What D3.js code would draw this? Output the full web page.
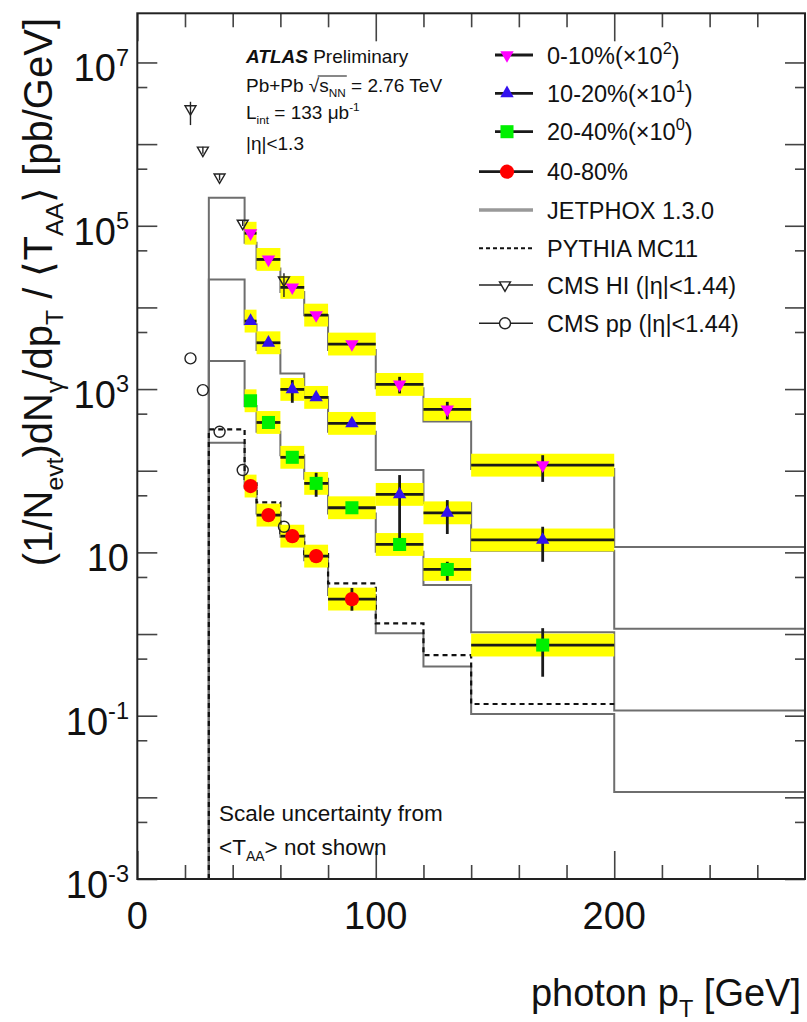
<!DOCTYPE html>
<html><head><meta charset="utf-8">
<script src="https://cdn.jsdelivr.net/npm/d3@7"></script>
<style>
body{margin:0;background:#fff}
svg{display:block}
text{font-family:"Liberation Sans",Arial,Helvetica,sans-serif;fill:#111}
</style>
</head><body>
<svg id="chart" width="807" height="1022"></svg>
<script>
// ---------- data ----------
const binLo     = [45, 50, 60, 70, 80, 100, 120, 140];
const binHi     = [50, 60, 70, 80, 100, 120, 140, 200];
const binCenter = [47.5, 55, 65, 75, 90, 110, 130, 170];

const c0010   = [8.1e4, 3.87e4, 1.76e4, 8.05e3, 3.56e3, 1140, 564, 117];
const c0010Lo = [7.6e4, 3.7e4, 1.68e4, 7.6e3, 3.4e3, 885, 425, 73];
const c0010Hi = [8.6e4, 4.05e4, 1.85e4, 8.5e3, 3.72e3, 1413, 698, 155];

const c1020   = [6.8e3, 3.69e3, 991, 791, 380, 51.3, 30.5, 14.2];
const c1020Lo = [6.4e3, 3.5e3, 679, 740, 360, 13.0, 16.8, 7.67];
const c1020Hi = [7.2e3, 3.9e3, 1288, 845, 400, 88.5, 43.7, 20.6];

const c2040   = [719, 390, 146, 70, 35.2, 12.5, 6.18, 0.733];
const c2040Lo = [690, 375, 138, 48.0, 33.5, 11.3, 4.50, 0.30];
const c2040Hi = [750, 405, 154, 94.4, 37, 13.8, 7.67, 1.18];

const c4080   = [64.9, 28.6, 15.8, 9.0, 2.68];
const c4080Lo = [61, 26.5, 13.5, 8.4, 1.93];
const c4080Hi = [69, 31, 18, 9.7, 3.66];

const sysFactor = 1.38;

const jetEdges = [30, 45, 50, 60, 70, 80, 100, 120, 140, 200, 280];
const jetphox  = [220, 62, 30, 15.5, 8.0, 3.0, 1.02, 0.40, 0.105, 0.0116];
const jetScale = [1000, 100, 10, 1];

const pyEdges = [30, 45, 50, 60, 70, 80, 100, 120, 140, 200];
const pythia  = [321, 70, 41, 16, 9.5, 4.18, 1.35, 0.553, 0.139];

const cmsPt   = [22.3, 27.5, 34.5, 44.2, 61.5];
const cmsHI   = [2.7e6, 8.4e5, 3.94e5, 1.07e5, 2.16e4];
const cmsHILo = [1.71e6, 7.6e5, 3.6e5, 9.9e4, 1.34e4];
const cmsHIHi = [3.3e6, 9.3e5, 4.3e5, 1.15e5, 2.63e4];
const cmsPP   = [2376, 972, 300, 102, 20.6];

const xMajor = [0, 100, 200];
const xMinor = [20, 40, 60, 80, 120, 140, 160, 180, 220, 240, 260];
const yLabelExp = [7, 5, 3, 1, -1, -3];
const yMajorExp = [-3, -2, -1, 0, 1, 2, 3, 4, 5, 6, 7];

// ---------- setup ----------
const svg = d3.select("#chart");
const L = 137.3, R = 805, T = 13.3, B = 879;
const x = d3.scaleLinear().domain([0, 280]).range([L, R]);
const y = d3.scaleLog().domain([1e-3, 4e7]).range([B, T]);

function rich(sel, segs, size, supScale) {
  const sc = supScale || 0.62;
  let shift = 0;
  segs.forEach(s => {
    const ts = sel.append("tspan").text(s.t);
    const target = s.sub ? size * 0.28 : (s.sup ? -size * 0.42 : 0);
    if (target - shift !== 0) ts.attr("dy", target - shift);
    shift = target;
    if (s.sub || s.sup) ts.attr("font-size", size * sc);
    if (s.style) ts.attr("font-style", s.style);
    if (s.weight) ts.attr("font-weight", s.weight);
  });
  return sel;
}

const plot = svg.append("g");

// ---------- theory histograms ----------
const stepLine = d3.line().x(d => x(d[0])).y(d => y(d[1])).curve(d3.curveStepAfter);
function histPoints(edges, vals, k) {
  const pts = [[edges[0], 1e-3]];
  vals.forEach((v, i) => pts.push([edges[i], v * k]));
  pts.push([edges[edges.length - 1], vals[vals.length - 1] * k]);
  return pts;
}
jetScale.forEach(k => {
  plot.append("path").attr("d", stepLine(histPoints(jetEdges, jetphox, k)))
    .attr("fill", "none").attr("stroke", "#6e6e6e").attr("stroke-width", 2);
});
plot.append("path").attr("d", stepLine(histPoints(pyEdges, pythia, 1)))
  .attr("fill", "none").attr("stroke", "#111").attr("stroke-width", 2.2)
  .attr("stroke-dasharray", "5,4");

// ---------- data series ----------
const series = [
  {v: c0010, lo: c0010Lo, hi: c0010Hi, color: "#ff00ff", shape: "down"},
  {v: c1020, lo: c1020Lo, hi: c1020Hi, color: "#3311ee", shape: "up"},
  {v: c2040, lo: c2040Lo, hi: c2040Hi, color: "#00f000", shape: "square"},
  {v: c4080, lo: c4080Lo, hi: c4080Hi, color: "#ff0000", shape: "circle"}
];
series.forEach(s => {
  s.v.forEach((v, i) => {
    plot.append("rect")
      .attr("x", x(binLo[i])).attr("width", x(binHi[i]) - x(binLo[i]))
      .attr("y", y(v * sysFactor)).attr("height", y(v / sysFactor) - y(v * sysFactor))
      .attr("fill", "#ffff00");
  });
});
series.forEach(s => {
  s.v.forEach((v, i) => {
    plot.append("line").attr("x1", x(binLo[i])).attr("x2", x(binHi[i]))
      .attr("y1", y(v)).attr("y2", y(v)).attr("stroke", "#1a1a1a").attr("stroke-width", 2.8);
    plot.append("line").attr("x1", x(binCenter[i])).attr("x2", x(binCenter[i]))
      .attr("y1", y(s.lo[i])).attr("y2", y(s.hi[i])).attr("stroke", "#1a1a1a").attr("stroke-width", 2.8);
  });
});
function marker(g, shape, cx, cy, color, open) {
  let sym, size, rot = 0;
  if (shape === "down") { sym = d3.symbolTriangle; size = open ? 52 : 78; rot = 180; }
  else if (shape === "up") { sym = d3.symbolTriangle; size = 78; }
  else if (shape === "square") { sym = d3.symbolSquare; size = 170; }
  else { sym = d3.symbolCircle; size = open ? 95 : 160; }
  const p = g.append("path").attr("d", d3.symbol().type(sym).size(size)())
    .attr("transform", `translate(${cx},${cy}) rotate(${rot})`);
  if (open) p.attr("fill", "none").attr("stroke", "#222").attr("stroke-width", 1.4);
  else p.attr("fill", color);
  return p;
}
series.forEach(s => {
  s.v.forEach((v, i) => marker(plot, s.shape, x(binCenter[i]), y(v), s.color, false));
});

// ---------- CMS ----------
cmsPt.forEach((p, i) => {
  plot.append("line").attr("x1", x(p)).attr("x2", x(p))
    .attr("y1", y(cmsHILo[i])).attr("y2", y(cmsHIHi[i]))
    .attr("stroke", "#222").attr("stroke-width", 1.4);
  marker(plot, "down", x(p), y(cmsHI[i]), null, true);
  marker(plot, "circle", x(p), y(cmsPP[i]), null, true);
});

// ---------- axes ----------
const ax = svg.append("g");
const tickStyle = g => g.call(gg => gg.select(".domain").remove())
  .selectAll("line").attr("stroke", "#444").attr("stroke-width", 1.6);
const minorY = [];
for (let e = -3; e < 7; e++) minorY.push(5 * Math.pow(10, e));
const majorY = yMajorExp.map(e => Math.pow(10, e));

ax.append("g").attr("transform", `translate(${L},0)`)
  .call(d3.axisLeft(y).tickValues(majorY).tickSize(-20).tickFormat("")).call(tickStyle);
ax.append("g").attr("transform", `translate(${L},0)`)
  .call(d3.axisLeft(y).tickValues(minorY).tickSize(-10).tickFormat("")).call(tickStyle);
ax.append("g").attr("transform", `translate(${R},0)`)
  .call(d3.axisRight(y).tickValues(majorY).tickSize(-20).tickFormat("")).call(tickStyle);
ax.append("g").attr("transform", `translate(${R},0)`)
  .call(d3.axisRight(y).tickValues(minorY).tickSize(-10).tickFormat("")).call(tickStyle);
ax.append("g").attr("transform", `translate(0,${B})`)
  .call(d3.axisBottom(x).tickValues(xMajor).tickSize(-28).tickFormat("")).call(tickStyle);
ax.append("g").attr("transform", `translate(0,${B})`)
  .call(d3.axisBottom(x).tickValues(xMinor).tickSize(-14).tickFormat("")).call(tickStyle);
ax.append("g").attr("transform", `translate(0,${T})`)
  .call(d3.axisTop(x).tickValues(xMajor).tickSize(-28).tickFormat("")).call(tickStyle);
ax.append("g").attr("transform", `translate(0,${T})`)
  .call(d3.axisTop(x).tickValues(xMinor).tickSize(-14).tickFormat("")).call(tickStyle);

ax.append("rect").attr("x", L).attr("y", T).attr("width", R - L).attr("height", B - T)
  .attr("fill", "none").attr("stroke", "#222").attr("stroke-width", 2);

yLabelExp.forEach(e => {
  const t = ax.append("text").attr("x", 129).attr("y", y(Math.pow(10, e)) + 19)
    .attr("text-anchor", "end").attr("font-size", 38);
  if (e === 1) rich(t, [{t: "10"}], 38);
  else rich(t, [{t: "10"}, {t: String(e), sup: true}], 38);
});
xMajor.forEach(v => {
  ax.append("text").attr("x", x(v)).attr("y", 929).attr("text-anchor", "middle")
    .attr("font-size", 38).text(String(v));
});

rich(svg.append("text").attr("x", 801).attr("y", 1006).attr("text-anchor", "end").attr("font-size", 38),
  [{t: "photon p"}, {t: "T", sub: true}, {t: " [GeV]"}], 38);
rich(svg.append("text").attr("transform", "translate(52,18) rotate(-90)").attr("text-anchor", "end").attr("font-size", 40),
  [{t: "(1/N"}, {t: "evt", sub: true}, {t: ")dN"}, {t: "γ", sub: true}, {t: "/dp"}, {t: "T", sub: true},
   {t: " / \u27E8T"}, {t: "AA", sub: true}, {t: "\u27E9 [pb/GeV]"}], 40);

// ---------- labels ----------
const lab = svg.append("g");
rich(lab.append("text").attr("x", 246).attr("y", 63).attr("font-size", 19),
  [{t: "ATLAS", style: "italic", weight: "bold"}, {t: " Preliminary"}], 19);
const pb = lab.append("text").attr("x", 246).attr("y", 92).attr("font-size", 19);
rich(pb, [{t: "Pb+Pb "}, {t: "\u221As"}, {t: "NN", sub: true}, {t: " = 2.76 TeV"}], 19);
{
  const node = pb.node();
  const a = node.getExtentOfChar(6), b = node.getExtentOfChar(9);
  lab.append("line").attr("x1", a.x + a.width * 0.85).attr("x2", b.x + b.width + 1)
    .attr("y1", a.y + 1).attr("y2", a.y + 1).attr("stroke", "#111").attr("stroke-width", 1);
}
rich(lab.append("text").attr("x", 246).attr("y", 119).attr("font-size", 19),
  [{t: "L"}, {t: "int", sub: true}, {t: " = 133 \u03BCb"}, {t: "-1", sup: true}], 19);
lab.append("text").attr("x", 246).attr("y", 150).attr("font-size", 19).text("|\u03B7|<1.3");

lab.append("text").attr("x", 219).attr("y", 821).attr("font-size", 22.5).text("Scale uncertainty from");
rich(lab.append("text").attr("x", 219).attr("y", 855).attr("font-size", 22.5),
  [{t: "<T"}, {t: "AA", sub: true}, {t: "> not shown"}], 22.5);

// ---------- legend ----------
const legY = [55, 93.3, 131.7, 171.7, 210, 248.3, 285, 323.3];
const legText = [
  [{t: "0-10%(\u00D710"}, {t: "2", sup: true}, {t: ")"}],
  [{t: "10-20%(\u00D710"}, {t: "1", sup: true}, {t: ")"}],
  [{t: "20-40%(\u00D710"}, {t: "0", sup: true}, {t: ")"}],
  [{t: "40-80%"}],
  [{t: "JETPHOX 1.3.0"}],
  [{t: "PYTHIA MC11"}],
  [{t: "CMS HI (|\u03B7|<1.44)"}],
  [{t: "CMS pp (|\u03B7|<1.44)"}]
];
const leg = svg.append("g");
legY.forEach((ly, i) => {
  const x0 = i < 3 ? 495 : 479, x1 = 533, mx = 507;
  if (i < 4) {
    leg.append("line").attr("x1", x0).attr("x2", x1).attr("y1", ly).attr("y2", ly)
      .attr("stroke", "#1a1a1a").attr("stroke-width", 2.8);
    marker(leg, series[i].shape, mx, ly, series[i].color, false);
  } else if (i === 4) {
    leg.append("line").attr("x1", x0).attr("x2", x1).attr("y1", ly).attr("y2", ly)
      .attr("stroke", "#999").attr("stroke-width", 3.5);
  } else if (i === 5) {
    leg.append("line").attr("x1", x0).attr("x2", x1).attr("y1", ly).attr("y2", ly)
      .attr("stroke", "#111").attr("stroke-width", 2).attr("stroke-dasharray", "4,3");
  } else {
    leg.append("line").attr("x1", x0).attr("x2", x1).attr("y1", ly).attr("y2", ly)
      .attr("stroke", "#222").attr("stroke-width", 1.4);
    const m = marker(leg, i === 6 ? "down" : "circle", 505, ly, null, true);
    m.attr("fill", "#fff");
  }
  rich(leg.append("text").attr("x", 547).attr("y", ly + 8.5).attr("font-size", 23.5), legText[i], 23.5, 0.7);
});
</script>
</body></html>
